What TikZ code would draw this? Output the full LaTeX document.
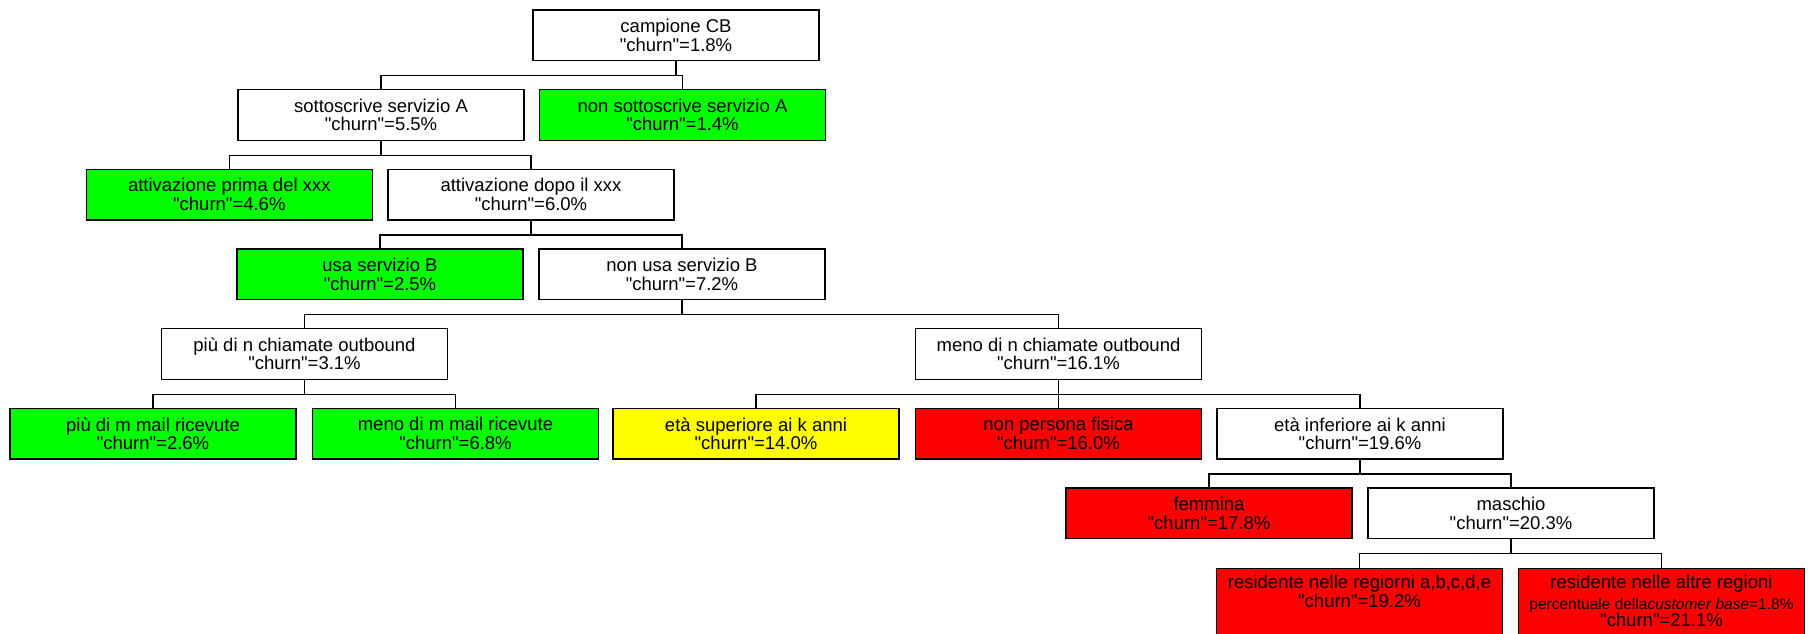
\documentclass[tikz,border=0pt]{standalone}
\usepackage{fontspec}
\setmainfont{Liberation Sans}
\definecolor{lgreen}{RGB}{0,255,0}
\definecolor{lred}{RGB}{255,0,0}
\definecolor{lyellow}{RGB}{255,255,0}
\newcommand{\ch}{\textquotedbl churn\textquotedbl{}}
\begin{document}
\begin{tikzpicture}[x=1pt,y=-1pt,
  box/.style={draw=black, line width=1.3pt, minimum width=286pt, minimum height=50.5pt,
    inner xsep=0pt, inner ysep=0pt, align=center, font=\fontsize{18.5}{18.5}\selectfont},
  tallbox/.style={box, anchor=north, inner ysep=7pt},
  gbox/.style={box, fill=lgreen},
  rbox/.style={box, fill=lred},
  ybox/.style={box, fill=lyellow},
  link/.style={draw=black, line width=1.3pt}]
\useasboundingbox (0,0) rectangle (1809,633);
\fill[white] (0,0) rectangle (1809,633);
\clip (0,0) rectangle (1809,633);
% row 0
\node[box] (root) at (676,35.25) {campione CB\\\ch=1.8\%};
% row 1
\node[box] (sA) at (381,114.9) {sottoscrive servizio A\\\ch=5.5\%};
\node[gbox] (nsA) at (682.5,114.9) {non sottoscrive servizio A\\\ch=1.4\%};
% row 2
\node[gbox] (attP) at (229.3,194.6) {attivazione prima del xxx\\\ch=4.6\%};
\node[box] (attD) at (531,194.6) {attivazione dopo il xxx\\\ch=6.0\%};
% row 3
\node[gbox] (usaB) at (380,274.3) {usa servizio B\\\ch=2.5\%};
\node[box] (nusaB) at (682,274.3) {non usa servizio B\\\ch=7.2\%};
% row 4
\node[box] (piuN) at (304.5,353.9) {più di n chiamate outbound\\\ch=3.1\%};
\node[box] (menoN) at (1058.5,353.9) {meno di n chiamate outbound\\\ch=16.1\%};
% row 5
\node[gbox] (piuM) at (153,433.6) {più di m mail ricevute\\\ch=2.6\%};
\node[gbox] (menoM) at (455.5,433.6) {meno di m mail ricevute\\\ch=6.8\%};
\node[ybox] (etaSup) at (756,433.6) {età superiore ai k anni\\\ch=14.0\%};
\node[rbox] (nonPF) at (1058.5,433.6) {non persona fisica\\\ch=16.0\%};
\node[box] (etaInf) at (1360,433.6) {età inferiore ai k anni\\\ch=19.6\%};
% row 6
\node[rbox] (femm) at (1209,513.3) {femmina\\\ch=17.8\%};
\node[box] (masch) at (1511,513.3) {maschio\\\ch=20.3\%};
% row 7
\node[tallbox, fill=lred] (resA) at (1359.5,567.7) {residente nelle regiorni a,b,c,d,e\\\ch=19.2\%\rule[-60pt]{0pt}{0pt}};
\node[tallbox, fill=lred] (resB) at (1661.5,567.7) {residente nelle altre regioni\\[2.5pt]{\fontsize{15.5}{15.5}\selectfont percentuale della\textit{customer base}=1.8\%}\\[-1.5pt]\ch=21.1\%\rule[-50pt]{0pt}{0pt}};
% connectors
\foreach \p/\c in {root/sA, root/nsA, sA/attP, sA/attD, attD/usaB, attD/nusaB,
  nusaB/piuN, nusaB/menoN, piuN/piuM, piuN/menoM, menoN/etaSup, menoN/nonPF, menoN/etaInf,
  etaInf/femm, etaInf/masch, masch/resA, masch/resB}
  \draw[link] (\p.south) -- ++(0,14.5) -| (\c.north);
\end{tikzpicture}
\end{document}
